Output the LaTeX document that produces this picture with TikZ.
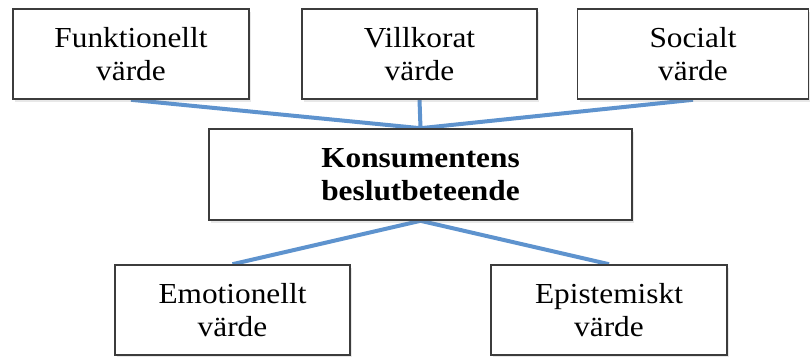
\documentclass[tikz,border=0pt]{standalone}
\usepackage{fontspec}
\setmainfont{Liberation Serif}[FakeStretch=1.08]
\usetikzlibrary{shadows,backgrounds}
\definecolor{link blue}{HTML}{5E93CE}
\definecolor{box gray}{HTML}{3C3C3C}
\tikzstyle{value} = [draw=box gray,line width=1.6pt,fill=white,align=center,inner sep=0pt,minimum height=90pt,font=\fontsize{29}{33}\selectfont,drop shadow={opacity=0.18,shadow xshift=2pt,shadow yshift=-3pt}]
\tikzstyle{link} = [link blue,line width=4pt]
\begin{document}
\begin{tikzpicture}[x=1pt,y=-1pt]
		\useasboundingbox (0,0) rectangle (810,356);
		\node[value,minimum width=236pt] (funk) at (131,54) {Funktionellt\\värde};
		\node[value,minimum width=235pt] (vill) at (419.5,54) {Villkorat\\värde};
		\node[value,minimum width=231pt] (soc) at (693,54) {Socialt\\värde};
		\node[value,minimum width=423pt,minimum height=91pt,font=\fontsize{29}{33}\selectfont\bfseries] (kons) at (420.5,174.5) {Konsumentens\\beslutbeteende};
		\node[value,minimum width=235pt] (emo) at (232.5,310) {Emotionellt\\värde};
		\node[value,minimum width=236pt] (epi) at (609,310) {Epistemiskt\\värde};
		
		\begin{scope}[on background layer]
		\draw[link] (funk.south) to (kons.north) (vill.south) to (kons.north) (soc.south) to (kons.north);
		\draw[link] (kons.south) to (emo.north) (kons.south) to (epi.north);
		\end{scope}
	\end{tikzpicture}
\end{document}
